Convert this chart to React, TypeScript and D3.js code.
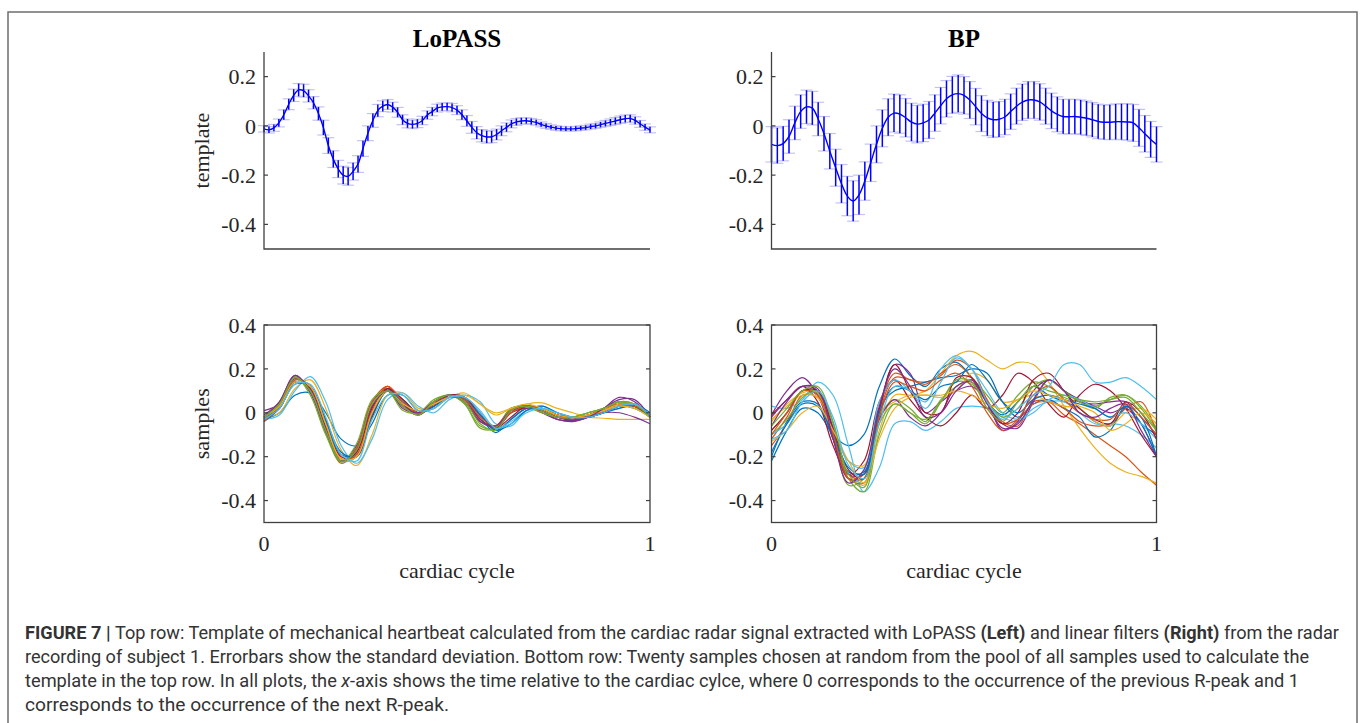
import React, { useEffect, useRef } from 'react';
import * as d3 from 'd3';

// MATLAB default line colour order
const lineColors = ['#0072BD', '#D95319', '#EDB120', '#7E2F8E', '#77AC30', '#4DBEEE', '#A2142F'];

const panelTitles = ['LoPASS', 'BP'];
const topTicks = [-0.4, -0.2, 0, 0.2];
const topTickLabels = ['-0.4', '-0.2', '0', '0.2'];
const bottomTicks = [-0.4, -0.2, 0, 0.2, 0.4];
const bottomTickLabels = ['-0.4', '-0.2', '0', '0.2', '0.4'];
const xTickLabels = ['0', '1'];

// template (mean +- std), evenly spaced over one cardiac cycle
const lopassMean = [
  -0.012, -0.016, -0.008, 0.012, 0.045, 0.088, 0.124, 0.146, 0.143, 0.122,
  0.094, 0.05, -0.007, -0.08, -0.135, -0.175, -0.2, -0.205, -0.185, -0.155,
  -0.092, -0.03, 0.022, 0.062, 0.08, 0.087, 0.076, 0.055, 0.025, 0.01,
  0.006, 0.01, 0.022, 0.044, 0.058, 0.072, 0.077, 0.078, 0.074, 0.064,
  0.045, 0.02, -0.006, -0.028, -0.04, -0.045, -0.044, -0.035, -0.02, -0.006,
  0.008, 0.016, 0.02, 0.021, 0.018, 0.014, 0.006, 0.0, -0.005, -0.009,
  -0.011, -0.012, -0.012, -0.011, -0.009, -0.007, -0.003, 0.0, 0.005, 0.01,
  0.015, 0.02, 0.025, 0.029, 0.03, 0.022, 0.008, -0.005, -0.016,
];
const lopassStd = [
  0.013, 0.013, 0.014, 0.016, 0.02, 0.022, 0.025, 0.026, 0.026, 0.025,
  0.025, 0.027, 0.03, 0.032, 0.034, 0.035, 0.036, 0.036, 0.035, 0.034,
  0.032, 0.03, 0.028, 0.025, 0.022, 0.02, 0.02, 0.02, 0.02, 0.018,
  0.017, 0.017, 0.017, 0.017, 0.017, 0.016, 0.016, 0.016, 0.017, 0.018,
  0.02, 0.022, 0.024, 0.025, 0.025, 0.025, 0.024, 0.022, 0.02, 0.018,
  0.016, 0.014, 0.013, 0.012, 0.012, 0.011, 0.01, 0.01, 0.009, 0.009,
  0.009, 0.009, 0.009, 0.009, 0.009, 0.009, 0.01, 0.01, 0.011, 0.012,
  0.013, 0.014, 0.015, 0.015, 0.015, 0.015, 0.014, 0.013, 0.012,
];
const bpMean = [
  -0.075, -0.08, -0.072, -0.043, 0.012, 0.058, 0.077, 0.072, 0.028, -0.032,
  -0.103, -0.17, -0.235, -0.285, -0.305, -0.28, -0.224, -0.15, -0.075, -0.01,
  0.035, 0.052, 0.048, 0.033, 0.015, 0.007, 0.012, 0.024, 0.052, 0.082,
  0.11, 0.126, 0.131, 0.124, 0.105, 0.078, 0.05, 0.032, 0.025, 0.027,
  0.036, 0.058, 0.08, 0.096, 0.105, 0.105, 0.097, 0.08, 0.061, 0.047,
  0.038, 0.037, 0.038, 0.035, 0.031, 0.025, 0.018, 0.015, 0.015, 0.017,
  0.017, 0.016, 0.012, -0.008, -0.032, -0.055, -0.075,
];
const bpStd = [
  0.072, 0.072, 0.07, 0.068, 0.068, 0.068, 0.068, 0.068, 0.068, 0.07,
  0.072, 0.075, 0.078, 0.08, 0.082, 0.08, 0.078, 0.076, 0.075, 0.075,
  0.075, 0.077, 0.078, 0.078, 0.077, 0.076, 0.076, 0.075, 0.074, 0.074,
  0.074, 0.075, 0.076, 0.076, 0.075, 0.074, 0.073, 0.072, 0.072, 0.072,
  0.072, 0.072, 0.073, 0.074, 0.075, 0.075, 0.074, 0.073, 0.072, 0.071,
  0.07, 0.07, 0.07, 0.07, 0.07, 0.07, 0.07, 0.07, 0.071, 0.072,
  0.073, 0.074, 0.075, 0.075, 0.074, 0.073, 0.072,
];

// twenty random samples, one value every 0.04 of the cycle
const lopassSamples = [
  [-0.03, 0.0, 0.08, 0.09, 0.0, -0.12, -0.15, -0.05, 0.08, 0.08, 0.01, 0.02, 0.07, 0.07, 0.0, -0.08, -0.03, 0.02, 0.02, -0.01, -0.02, -0.01, 0.01, 0.03, 0.02, -0.02],
  [-0.04, 0.03, 0.15, 0.12, -0.06, -0.22, -0.18, 0.02, 0.12, 0.05, 0.0, 0.04, 0.08, 0.06, -0.03, -0.06, 0.01, 0.02, 0.01, -0.01, -0.02, -0.01, 0.02, 0.04, 0.03, -0.02],
  [-0.02, 0.0, 0.11, 0.15, 0.02, -0.17, -0.24, -0.1, 0.08, 0.09, 0.02, 0.02, 0.07, 0.09, 0.04, 0.0, 0.02, 0.04, 0.045, 0.02, 0.0, -0.02, -0.025, -0.03, -0.03, -0.03],
  [-0.01, 0.05, 0.17, 0.09, -0.09, -0.22, -0.15, 0.05, 0.1, 0.02, 0.0, 0.05, 0.08, 0.05, -0.04, -0.06, 0.01, 0.03, 0.0, -0.03, -0.04, -0.02, 0.02, 0.07, 0.05, -0.02],
  [-0.02, 0.04, 0.16, 0.1, -0.08, -0.22, -0.16, 0.04, 0.1, 0.03, -0.01, 0.05, 0.08, 0.04, -0.06, -0.07, 0.02, 0.03, 0.01, -0.02, -0.02, 0.0, 0.02, 0.05, 0.03, -0.02],
  [-0.03, -0.01, 0.1, 0.165, 0.05, -0.15, -0.23, -0.12, 0.06, 0.09, 0.03, 0.0, 0.06, 0.08, 0.05, -0.05, -0.06, 0.01, 0.03, 0.0, -0.02, -0.02, 0.0, 0.03, 0.04, -0.01],
  [-0.03, 0.03, 0.155, 0.11, -0.06, -0.22, -0.18, 0.02, 0.11, 0.04, 0.0, 0.04, 0.08, 0.06, -0.03, -0.07, 0.0, 0.03, 0.01, -0.02, -0.03, -0.01, 0.01, 0.04, 0.03, -0.02],
  [-0.04, 0.02, 0.13, 0.12, -0.03, -0.18, -0.2, -0.02, 0.1, 0.06, 0.0, 0.03, 0.08, 0.07, -0.02, -0.09, -0.03, 0.02, 0.02, -0.01, -0.03, -0.02, 0.0, 0.03, 0.04, 0.0],
  [-0.03, 0.04, 0.16, 0.1, -0.08, -0.23, -0.16, 0.05, 0.12, 0.03, -0.01, 0.05, 0.08, 0.05, -0.04, -0.06, 0.02, 0.03, 0.0, -0.02, -0.03, -0.01, 0.01, 0.05, 0.04, -0.02],
  [-0.02, 0.03, 0.15, 0.12, -0.05, -0.21, -0.2, 0.0, 0.1, 0.05, 0.0, 0.04, 0.08, 0.07, -0.02, -0.06, 0.0, 0.02, 0.01, -0.01, -0.02, -0.01, 0.01, 0.04, 0.03, -0.02],
  [0.01, 0.04, 0.16, 0.11, -0.07, -0.22, -0.17, 0.03, 0.11, 0.04, -0.01, 0.04, 0.08, 0.06, -0.03, -0.07, 0.0, 0.02, 0.01, -0.03, -0.035, -0.02, 0.0, 0.0, -0.02, -0.05],
  [-0.02, 0.05, 0.165, 0.08, -0.1, -0.225, -0.14, 0.06, 0.1, 0.01, 0.0, 0.06, 0.08, 0.04, -0.07, -0.07, 0.02, 0.025, 0.0, -0.02, -0.02, 0.0, 0.02, 0.05, 0.03, -0.02],
  [-0.03, 0.03, 0.15, 0.12, -0.05, -0.22, -0.2, 0.0, 0.1, 0.05, 0.0, 0.03, 0.08, 0.07, 0.0, -0.07, -0.04, 0.01, 0.02, 0.0, -0.02, -0.02, 0.0, 0.02, 0.04, -0.01],
  [-0.03, 0.02, 0.14, 0.12, -0.04, -0.2, -0.2, -0.02, 0.11, 0.06, 0.0, 0.03, 0.08, 0.07, -0.01, -0.07, -0.02, 0.03, 0.02, -0.01, -0.02, -0.02, 0.0, 0.03, 0.03, -0.02],
  [-0.02, 0.02, 0.14, 0.12, -0.04, -0.19, -0.19, -0.01, 0.1, 0.05, 0.0, 0.03, 0.07, 0.06, -0.01, -0.08, -0.05, 0.01, 0.03, 0.0, -0.02, -0.02, 0.0, 0.02, 0.03, -0.02],
  [-0.04, 0.03, 0.15, 0.12, -0.05, -0.21, -0.19, 0.01, 0.12, 0.05, 0.0, 0.04, 0.07, 0.06, -0.02, -0.06, 0.0, 0.03, 0.02, -0.01, -0.02, -0.01, 0.01, 0.03, 0.03, -0.01],
  [-0.02, 0.03, 0.14, 0.12, -0.05, -0.21, -0.2, 0.0, 0.1, 0.04, 0.01, 0.04, 0.07, 0.08, 0.04, -0.01, 0.02, 0.04, 0.02, -0.01, -0.02, -0.01, 0.01, 0.03, 0.02, -0.02],
  [-0.02, 0.05, 0.17, 0.1, -0.08, -0.22, -0.17, 0.03, 0.1, 0.03, 0.0, 0.05, 0.08, 0.05, -0.04, -0.06, 0.01, 0.03, 0.01, -0.02, -0.035, -0.02, 0.02, 0.06, 0.06, -0.02],
  [-0.02, 0.04, 0.16, 0.1, -0.08, -0.22, -0.17, 0.04, 0.1, 0.03, -0.01, 0.05, 0.08, 0.05, -0.05, -0.08, 0.01, 0.03, 0.01, -0.02, -0.02, 0.0, 0.02, 0.05, 0.04, -0.02],
  [-0.03, 0.02, 0.13, 0.13, -0.02, -0.19, -0.22, -0.03, 0.08, 0.08, 0.01, 0.02, 0.07, 0.07, 0.01, -0.07, -0.05, 0.0, 0.02, 0.0, -0.02, -0.02, 0.0, 0.03, 0.04, -0.01],
];

const bpSamples = [
  [-0.22, -0.08, 0.02, 0.0, -0.1, -0.15, -0.1, 0.12, 0.245, 0.17, 0.12, 0.2, 0.23, 0.16, 0.05, -0.01, 0.05, 0.12, 0.08, 0.05, 0.02, -0.04, -0.06, 0.02, -0.05, -0.1],
  [-0.12, -0.02, 0.1, 0.08, -0.12, -0.3, -0.28, 0.02, 0.18, 0.15, 0.14, 0.17, 0.24, 0.2, 0.06, -0.04, -0.06, 0.05, 0.05, -0.01, -0.05, -0.1, -0.15, -0.2, -0.27, -0.33],
  [-0.04, 0.04, 0.09, 0.1, -0.08, -0.28, -0.33, -0.08, 0.08, 0.08, 0.1, 0.18, 0.26, 0.28, 0.24, 0.2, 0.23, 0.22, 0.14, 0.03, -0.07, -0.16, -0.23, -0.27, -0.29, -0.32],
  [-0.01, 0.1, 0.16, 0.08, -0.12, -0.3, -0.3, 0.0, 0.22, 0.18, 0.0, 0.05, 0.1, 0.12, 0.05, -0.05, -0.07, 0.05, 0.15, 0.1, 0.06, 0.03, 0.0, 0.02, -0.05, -0.2],
  [-0.08, 0.0, 0.1, 0.09, -0.1, -0.33, -0.3, -0.02, 0.06, 0.02, -0.04, 0.06, 0.12, 0.15, 0.08, 0.0, 0.08, 0.14, 0.12, 0.07, 0.05, 0.03, 0.06, 0.08, 0.03, -0.07],
  [0.03, 0.02, 0.06, 0.14, 0.08, -0.15, -0.36, -0.25, -0.05, -0.04, -0.08, -0.04, 0.02, 0.03, 0.02, -0.02, -0.04, 0.02, 0.05, 0.05, 0.0, -0.05, -0.05, -0.06, -0.1, -0.16],
  [-0.01, 0.06, 0.12, 0.05, -0.15, -0.28, -0.22, 0.05, 0.15, 0.06, -0.02, -0.06, 0.0, 0.08, 0.02, 0.08, 0.18, 0.14, 0.04, -0.02, 0.08, 0.13, 0.1, 0.02, -0.1, -0.2],
  [-0.2, -0.04, 0.05, 0.04, -0.12, -0.27, -0.27, 0.02, 0.1, 0.12, 0.14, 0.16, 0.17, 0.2, 0.18, 0.05, -0.02, 0.04, 0.06, 0.02, -0.02, -0.11, -0.08, 0.03, -0.05, -0.2],
  [-0.15, -0.05, 0.08, 0.07, -0.1, -0.28, -0.3, 0.0, 0.16, 0.15, 0.13, 0.18, 0.22, 0.16, 0.02, -0.05, -0.03, 0.04, 0.05, 0.02, -0.04, -0.06, -0.05, 0.02, 0.05, -0.09],
  [-0.03, 0.03, 0.08, 0.07, -0.08, -0.22, -0.24, 0.0, 0.05, 0.08, 0.08, 0.07, 0.1, 0.18, 0.15, 0.05, 0.06, 0.08, 0.05, 0.03, 0.02, -0.04, -0.06, 0.0, 0.02, -0.03],
  [-0.06, 0.05, 0.12, 0.1, -0.08, -0.28, -0.28, -0.03, 0.06, -0.02, -0.06, 0.0, 0.12, 0.14, 0.05, -0.08, -0.04, 0.1, 0.15, 0.1, 0.05, 0.04, 0.05, 0.05, -0.02, -0.1],
  [-0.1, -0.03, 0.07, 0.1, -0.05, -0.3, -0.36, -0.1, 0.04, 0.0, -0.05, 0.05, 0.14, 0.13, 0.05, -0.02, 0.02, 0.12, 0.15, 0.1, 0.05, 0.02, 0.07, 0.08, 0.02, -0.08],
  [-0.1, -0.05, 0.05, 0.1, -0.06, -0.22, -0.25, 0.05, 0.15, 0.1, 0.05, 0.2, 0.26, 0.2, 0.1, 0.0, -0.03, 0.0, 0.06, 0.08, 0.06, 0.02, -0.02, 0.0, -0.05, -0.12],
  [-0.08, 0.0, 0.1, 0.1, -0.07, -0.26, -0.3, 0.02, 0.22, 0.1, 0.0, 0.0, 0.16, 0.16, 0.05, -0.05, 0.0, 0.15, 0.18, 0.1, 0.02, -0.03, -0.05, 0.05, 0.0, -0.12],
  [-0.18, -0.05, 0.04, 0.03, -0.1, -0.25, -0.28, 0.0, 0.12, 0.1, 0.06, 0.12, 0.14, 0.22, 0.15, 0.05, 0.0, 0.06, 0.08, 0.06, 0.04, 0.02, -0.02, 0.03, -0.02, -0.2],
  [-0.1, 0.0, 0.1, 0.08, -0.1, -0.3, -0.32, -0.02, 0.14, 0.12, 0.1, 0.15, 0.18, 0.12, 0.0, -0.08, -0.03, 0.08, 0.12, 0.06, 0.0, -0.03, -0.03, 0.04, -0.02, -0.1],
  [-0.13, -0.08, 0.0, 0.03, -0.08, -0.22, -0.32, -0.12, 0.02, 0.07, 0.08, 0.08, 0.1, 0.08, 0.04, 0.02, 0.06, 0.1, 0.08, 0.06, 0.03, 0.0, -0.08, -0.05, 0.0, -0.05],
  [-0.02, 0.06, 0.12, 0.11, -0.12, -0.32, -0.26, 0.03, 0.2, 0.12, -0.02, 0.0, 0.1, 0.15, 0.04, -0.07, -0.05, 0.06, 0.15, 0.1, 0.0, -0.02, 0.02, 0.04, -0.08, -0.2],
  [-0.06, 0.02, 0.1, 0.12, -0.04, -0.28, -0.34, -0.05, 0.04, 0.0, -0.03, 0.05, 0.15, 0.14, 0.02, -0.04, 0.05, 0.12, 0.1, 0.08, 0.06, 0.05, 0.06, 0.07, 0.0, -0.08],
  [-0.12, -0.08, 0.05, 0.1, -0.02, -0.24, -0.3, -0.05, 0.12, 0.1, 0.02, 0.14, 0.25, 0.2, 0.05, -0.03, 0.02, 0.08, 0.12, 0.22, 0.22, 0.14, 0.14, 0.16, 0.12, 0.06],
];

const captionLines = [
  [['FIGURE 7 | ', 'b'], ['Top row: Template of mechanical heartbeat calculated from the cardiac radar signal extracted with LoPASS ', ''], ['(Left)', 'b'], [' and linear filters ', ''], ['(Right)', 'b'], [' from the radar', '']],
  [['recording of subject 1. Errorbars show the standard deviation. Bottom row: Twenty samples chosen at random from the pool of all samples used to calculate the', '']],
  [['template in the top row. In all plots, the ', ''], ['x', 'i'], ['-axis shows the time relative to the cardiac cylce, where 0 corresponds to the occurrence of the previous R-peak and 1', '']],
  [['corresponds to the occurrence of the next R-peak.', '']],
];
const captionWidths = [1314, 1284, 1274, 424];

const serif = "'Liberation Serif', 'Times New Roman', Times, serif";
const axisColor = '#404040';
const textColor = '#262626';

const cols = [{ x0: 264, x1: 650 }, { x0: 771.5, x1: 1156.5 }];
const topRow = { y0: 52, y1: 249 };
const botRow = { y0: 325, y1: 522.5 };

function App() {
  const ref = useRef<SVGSVGElement>(null);

  useEffect(() => {
    const svg = d3.select(ref.current);
    svg.selectAll('*').remove();

    // figure frame
    svg.append('rect')
      .attr('x', 8).attr('y', 12).attr('width', 1349).attr('height', 730)
      .attr('fill', 'none').attr('stroke', '#6e6e6e').attr('stroke-width', 1.5);

    const yLabel = (text: string, cy: number) => {
      svg.append('text')
        .attr('transform', `translate(209,${cy}) rotate(-90)`)
        .attr('text-anchor', 'middle')
        .attr('font-family', serif).attr('font-size', 22).attr('fill', textColor)
        .text(text);
    };

    const yTicks = (g: any, y: any, ticks: number[], labels: string[], x0: number, x1: number | null) => {
      ticks.forEach((t, i) => {
        g.append('line').attr('x1', x0).attr('x2', x0 + 4).attr('y1', y(t)).attr('y2', y(t))
          .attr('stroke', axisColor).attr('stroke-width', 1.2);
        if (x1 !== null) {
          g.append('line').attr('x1', x1).attr('x2', x1 - 4).attr('y1', y(t)).attr('y2', y(t))
            .attr('stroke', axisColor).attr('stroke-width', 1.2);
        }
        g.append('text')
          .attr('x', x0 - 8).attr('y', y(t)).attr('dy', '0.35em')
          .attr('text-anchor', 'end')
          .attr('font-family', serif).attr('font-size', 22).attr('fill', textColor)
          .text(labels[i]);
      });
    };

    // top row: templates with error bars
    [[lopassMean, lopassStd], [bpMean, bpStd]].forEach(([mean, std], c) => {
      const { x0, x1 } = cols[c];
      const x = d3.scaleLinear().domain([0, 1]).range([x0, x1]);
      const y = d3.scaleLinear().domain([-0.5, 0.3]).range([topRow.y1, topRow.y0]);
      const g = svg.append('g');
      const pts = mean.map((m, i) => ({ t: i / (mean.length - 1), m, s: std[i] }));

      g.selectAll('line.capTop').data(pts).enter().append('line')
        .attr('x1', d => x(d.t) - 6).attr('x2', d => x(d.t) + 6)
        .attr('y1', d => y(d.m + d.s)).attr('y2', d => y(d.m + d.s))
        .attr('stroke', '#c3c3f3').attr('stroke-width', 1.2);
      g.selectAll('line.capBot').data(pts).enter().append('line')
        .attr('x1', d => x(d.t) - 6).attr('x2', d => x(d.t) + 6)
        .attr('y1', d => y(d.m - d.s)).attr('y2', d => y(d.m - d.s))
        .attr('stroke', '#c3c3f3').attr('stroke-width', 1.2);
      g.selectAll('line.bar').data(pts).enter().append('line')
        .attr('x1', d => x(d.t)).attr('x2', d => x(d.t))
        .attr('y1', d => y(d.m - d.s)).attr('y2', d => y(d.m + d.s))
        .attr('stroke', '#0000ff').attr('stroke-width', 1.5);

      const line = d3.line<any>().x(d => x(d.t)).y(d => y(d.m)).curve(d3.curveCatmullRom);
      g.append('path').attr('d', line(pts)).attr('fill', 'none')
        .attr('stroke', '#0000ff').attr('stroke-width', 1.4);

      // axes (box off)
      g.append('path').attr('d', `M${x0},${topRow.y0}V${topRow.y1}H${x1}`)
        .attr('fill', 'none').attr('stroke', axisColor).attr('stroke-width', 1.3);
      yTicks(g, y, topTicks, topTickLabels, x0, null);

      svg.append('text')
        .attr('x', (x0 + x1) / 2).attr('y', 47)
        .attr('text-anchor', 'middle')
        .attr('font-family', serif).attr('font-size', 25).attr('font-weight', 'bold').attr('fill', '#000')
        .text(panelTitles[c]);
    });

    // bottom row: samples
    [lopassSamples, bpSamples].forEach((samples, c) => {
      const { x0, x1 } = cols[c];
      const x = d3.scaleLinear().domain([0, 1]).range([x0, x1]);
      const y = d3.scaleLinear().domain([-0.5, 0.4]).range([botRow.y1, botRow.y0]);
      const g = svg.append('g');

      samples.forEach((vals, k) => {
        const line = d3.line<number>()
          .x((_, i) => x(i / (vals.length - 1)))
          .y(d => y(d))
          .curve(d3.curveCatmullRom);
        g.append('path').attr('d', line(vals)).attr('fill', 'none')
          .attr('stroke', lineColors[k % lineColors.length]).attr('stroke-width', 1.2);
      });

      g.append('rect')
        .attr('x', x0).attr('y', botRow.y0).attr('width', x1 - x0).attr('height', botRow.y1 - botRow.y0)
        .attr('fill', 'none').attr('stroke', axisColor).attr('stroke-width', 1.3);
      yTicks(g, y, bottomTicks, bottomTickLabels, x0, x1);

      [0, 1].forEach((t, i) => {
        g.append('text')
          .attr('x', x(t)).attr('y', 551)
          .attr('text-anchor', 'middle')
          .attr('font-family', serif).attr('font-size', 22).attr('fill', textColor)
          .text(xTickLabels[i]);
      });
      g.append('text')
        .attr('x', (x0 + x1) / 2).attr('y', 578)
        .attr('text-anchor', 'middle')
        .attr('font-family', serif).attr('font-size', 22).attr('fill', textColor)
        .text('cardiac cycle');
    });

    yLabel('template', (topRow.y0 + topRow.y1) / 2);
    yLabel('samples', (botRow.y0 + botRow.y1) / 2);

    // caption
    captionLines.forEach((segs, i) => {
      const t = svg.append('text')
        .attr('x', 25).attr('y', 639 + i * 24)
        .attr('font-family', "'Liberation Sans Narrow', 'Roboto', 'Liberation Sans', sans-serif")
        .attr('font-size', 18).attr('fill', '#333')
        .attr('textLength', captionWidths[i]).attr('lengthAdjust', 'spacingAndGlyphs')
        .style('white-space', 'pre');
      segs.forEach(([s, f]) => {
        const sp = t.append('tspan').text(s);
        if (f === 'b') sp.attr('font-weight', 'bold');
        if (f === 'i') sp.attr('font-style', 'italic');
      });
    });
  }, []);

  return (
    <svg ref={ref} width={1360} height={723}
      style={{ position: 'absolute', left: 0, top: 0, background: '#fff', display: 'block' }} />
  );
}

export default App;
